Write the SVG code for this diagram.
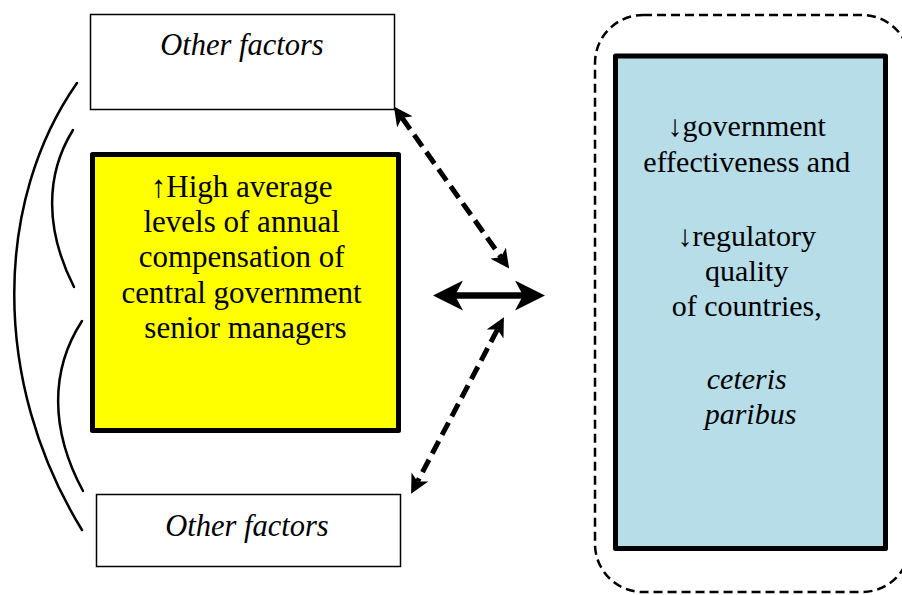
<svg xmlns="http://www.w3.org/2000/svg" width="902" height="595" viewBox="0 0 902 595">
  <style>
    .txt { font-family: "Liberation Serif", "Times New Roman", serif; fill: #000; text-anchor: middle; }
    .it { font-style: italic; }
    .plain-box { fill: #fff; stroke: #000; stroke-width: 1.5; }
    .bold-box { stroke: #000; stroke-width: 5; stroke-linejoin: round; }
    .bracket { fill: none; stroke: #000; stroke-width: 2.5; stroke-linecap: round; }
    .dashed-link { fill: none; stroke: #000; stroke-width: 5; stroke-dasharray: 14 7; }
    .solid-link { fill: none; stroke: #000; stroke-width: 6.5; }
  </style>
  <defs>
    <marker id="head-big" viewBox="0 0 30 30" refX="8" refY="15" markerWidth="30" markerHeight="30" markerUnits="userSpaceOnUse" orient="auto-start-reverse">
      <path d="M0,0 L30,15 L0,30 L8,15 Z" fill="#000"/>
    </marker>
    <marker id="head-small" viewBox="0 0 19 19" refX="5" refY="9.5" markerWidth="19" markerHeight="19" markerUnits="userSpaceOnUse" orient="auto-start-reverse">
      <path d="M0,0 L19,9.5 L0,19 L5,9.5 Z" fill="#000"/>
    </marker>
  </defs>

  <!-- dashed outline around the outcome box -->
  <rect x="595" y="15" width="315" height="577" rx="48" ry="48" fill="none" stroke="#000" stroke-width="2.5" stroke-dasharray="9 5"/>

  <g id="node-other-top">
    <rect class="plain-box" x="90.5" y="14.5" width="304" height="95"/>
    <text class="txt it" x="242" y="55" font-size="30.5">Other factors</text>
  </g>

  <g id="node-compensation">
    <rect class="bold-box" x="92.5" y="154.5" width="306" height="276" fill="#ffff00"/>
    <text class="txt" font-size="31">
      <tspan x="245.5" y="197">↑High average</tspan>
      <tspan x="245.5" y="232">levels of annual</tspan>
      <tspan x="245.5" y="267">compensation of</tspan>
      <tspan x="245.5" y="303">central government</tspan>
      <tspan x="245.5" y="338">senior managers</tspan>
    </text>
  </g>

  <g id="node-other-bottom">
    <rect class="plain-box" x="96.5" y="494.5" width="304" height="72"/>
    <text class="txt it" x="247" y="536" font-size="30.5">Other factors</text>
  </g>

  <g id="node-outcome">
    <rect class="bold-box" x="615.5" y="56" width="270" height="492.5" fill="#b7dde8"/>
    <text class="txt" font-size="30">
      <tspan x="750.5" y="136">↓government</tspan>
      <tspan x="750.5" y="172">effectiveness and</tspan>
      <tspan x="750.5" y="246">↓regulatory</tspan>
      <tspan x="750.5" y="281">quality</tspan>
      <tspan x="750.5" y="316">of countries,</tspan>
      <tspan class="it" x="750.5" y="389">ceteris</tspan>
      <tspan class="it" x="750.5" y="424">paribus</tspan>
    </text>
  </g>

  <g id="connectors">
    <!-- brackets on the left -->
    <path class="bracket" d="M77,83 C-5,200 -10,380 82,530"/>
    <path class="bracket" d="M73,130 C45,175 45,230 74,287"/>
    <path class="bracket" d="M82,321 C50,370 50,430 83,491"/>
    <!-- two-way links -->
    <line class="dashed-link" x1="402" y1="117.8" x2="501" y2="257.2" marker-start="url(#head-small)" marker-end="url(#head-small)"/>
    <line class="dashed-link" x1="497.4" y1="329.6" x2="417.6" y2="481.4" marker-start="url(#head-small)" marker-end="url(#head-small)"/>
    <line class="solid-link" x1="455" y1="295.5" x2="523" y2="295.5" marker-start="url(#head-big)" marker-end="url(#head-big)"/>
  </g>
</svg>
